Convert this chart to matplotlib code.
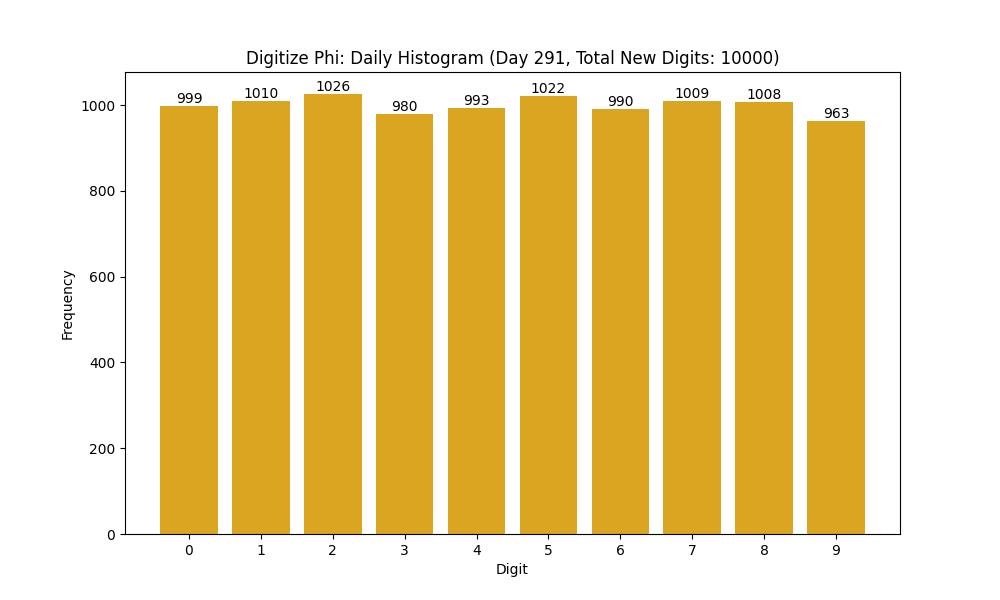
import matplotlib
matplotlib.use('Agg')
import matplotlib.pyplot as plt

digits = ['0', '1', '2', '3', '4', '5', '6', '7', '8', '9']
counts = [999, 1010, 1026, 980, 993, 1022, 990, 1009, 1008, 963]

fig, ax = plt.subplots(figsize=(10, 6), dpi=100)
bars = ax.bar(digits, counts, color='goldenrod')
ax.bar_label(bars)
ax.set_xlabel('Digit')
ax.set_ylabel('Frequency')
ax.set_title('Digitize Phi: Daily Histogram (Day 291, Total New Digits: 10000)')
fig.savefig('out.png')
